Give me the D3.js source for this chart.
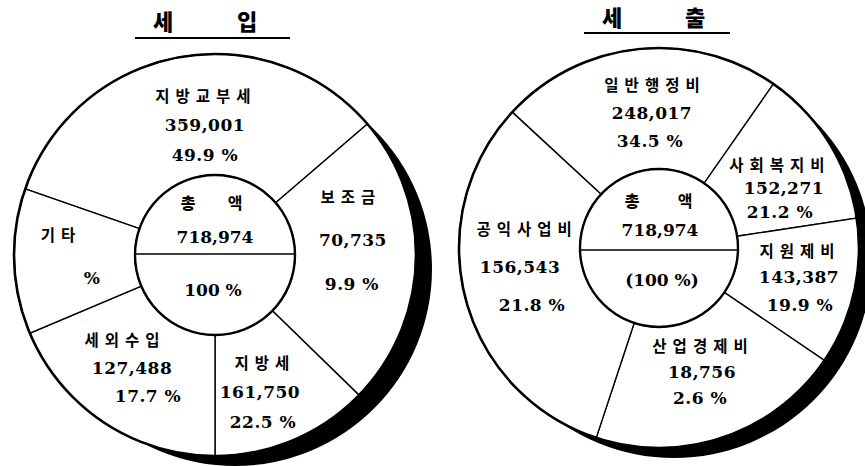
<!DOCTYPE html>
<html>
<head>
<meta charset="utf-8">
<script src="https://cdn.jsdelivr.net/npm/d3@7"></script>
<style>
  body { margin: 0; background: #fff; }
</style>
</head>
<body>
<svg></svg>
<script>
// 세입 (revenue)
const revenueNames = ['지방교부세', '보조금', '지방세', '세외수입', '기타'];
const revenueAmounts = [359001, 70735, 161750, 127488, null];
const revenuePercents = [49.9, 9.9, 22.5, 17.7, null];
// slice sizes as they are drawn in the picture (degrees), the drawing is not to scale
const revenueDrawn = [120.1, 84.9, 45.8, 67.1, 42.1];

// 세출 (expenditure)
const expenseNames = ['일반행정비', '사회복지비', '지원제비', '산업경제비', '공익사업비'];
const expenseAmounts = [248017, 152271, 143387, 18756, 156543];
const expensePercents = [34.5, 21.2, 19.9, 2.6, 21.8];
const expenseDrawn = [82.1, 46.5, 42.8, 74.1, 114.5];

const totalAmount = 718974;

const width = 865;
const height = 466;
const krFont = "'Noto Sans CJK KR', sans-serif";
const numFont = "'DejaVu Serif', serif";
const fmt = d3.format(',');

const svg = d3.select('svg')
  .attr('width', width)
  .attr('height', height);

// label tweaks: [dx, dy, line gap, first line dx, last line dx]
const revenueLabelLayout = [
  [16, 7.5, 30, -2, 0],
  [-2, -19, 44, -5, -1],
  [-9.5, 8, 30, 2, 3],
  [-5.6, -3.7, 28.5, -10, 16],
  [0, -4, 22, -17, 17]
];
const expenseLabelLayout = [
  [8, 4, 28.5, 0, -2],
  [6, 14, 24, -7, -4],
  [3.5, -2, 27.5, -2, 1],
  [-2, -8.6, 26.5, -2, -2],
  [-3.4, -16, 38.5, 4, 12]
];

const drawTitle = (chars, xs, y, line) => {
  svg.selectAll(null)
    .data(chars)
    .join('text')
    .attr('x', (d, i) => xs[i])
    .attr('y', y)
    .attr('text-anchor', 'middle')
    .attr('dominant-baseline', 'central')
    .style('font-family', krFont)
    .style('font-weight', 900)
    .style('font-size', '22px')
    .text(d => d);

  svg.append('line')
    .attr('x1', line[0])
    .attr('x2', line[1])
    .attr('y1', line[2])
    .attr('y2', line[2])
    .attr('stroke', 'black')
    .attr('stroke-width', 1.8);
};

const drawDonut = (opt) => {
  const g = svg.append('g')
    .attr('transform', `translate(${opt.cx}, ${opt.cy})`);

  // black crescent shadow
  g.append('circle')
    .attr('cx', opt.shadow[0])
    .attr('cy', opt.shadow[1])
    .attr('r', opt.outer + opt.shadow[2])
    .style('fill', 'black');

  g.append('circle')
    .attr('r', opt.outer)
    .style('fill', 'white');

  const start = opt.start * Math.PI / 180;
  const pie = d3.pie()
    .sort(null)
    .value(d => d)
    .startAngle(start)
    .endAngle(start + 2 * Math.PI);
  const slices = pie(opt.drawn);

  const arc = d3.arc()
    .innerRadius(opt.inner)
    .outerRadius(opt.outer);

  g.selectAll('path.slice')
    .data(slices)
    .join('path')
    .attr('class', 'slice')
    .attr('d', arc)
    .style('fill', 'white')
    .style('stroke', 'black')
    .style('stroke-width', 1.4);

  g.append('circle')
    .attr('r', opt.outer)
    .style('fill', 'none')
    .style('stroke', 'black')
    .style('stroke-width', 2.6);

  g.append('circle')
    .attr('r', opt.inner)
    .style('fill', 'white')
    .style('stroke', 'black')
    .style('stroke-width', 2.4);

  g.append('line')
    .attr('x1', -opt.inner)
    .attr('x2', opt.inner)
    .attr('y1', opt.midLine)
    .attr('y2', opt.midLine)
    .attr('stroke', 'black')
    .attr('stroke-width', 1.6);

  // centre: 총 액 / total / 100%
  const c = opt.centre;
  g.append('text')
    .attr('x', c[0][0]).attr('y', c[0][1])
    .attr('text-anchor', 'middle')
    .attr('dominant-baseline', 'central')
    .style('font-family', krFont)
    .style('font-weight', 900)
    .style('font-size', '16px')
    .text('총');
  g.append('text')
    .attr('x', c[1][0]).attr('y', c[1][1])
    .attr('text-anchor', 'middle')
    .attr('dominant-baseline', 'central')
    .style('font-family', krFont)
    .style('font-weight', 700)
    .style('font-size', '16px')
    .text('액');
  g.append('text')
    .attr('x', c[2][0]).attr('y', c[2][1])
    .attr('text-anchor', 'middle')
    .attr('dominant-baseline', 'central')
    .style('font-family', numFont)
    .style('font-weight', 'bold')
    .style('font-size', '17px')
    .text(fmt(totalAmount));
  g.append('text')
    .attr('x', c[3][0]).attr('y', c[3][1])
    .attr('text-anchor', 'middle')
    .attr('dominant-baseline', 'central')
    .style('font-family', numFont)
    .style('font-weight', 'bold')
    .style('font-size', '17px')
    .text(opt.hundred);

  // slice labels
  const labelArc = d3.arc()
    .innerRadius(opt.labelR)
    .outerRadius(opt.labelR);

  slices.forEach((s, i) => {
    const [x, y] = labelArc.centroid(s);
    const [dx, dy, gap, dx1, dx3] = opt.layout[i];
    const bx = x + dx;
    const by = y + dy;
    const lines = [
      opt.names[i],
      opt.amounts[i] == null ? '' : fmt(opt.amounts[i]),
      opt.percents[i] == null ? '%' : opt.percents[i].toFixed(1) + ' %'
    ];
    const shifts = [dx1, 0, dx3];

    lines.forEach((txt, k) => {
      const isName = k === 0;
      g.append('text')
        .attr('x', bx + shifts[k] + (isName ? 3 : 0))
        .attr('y', by + (k - 1) * gap)
        .attr('text-anchor', 'middle')
        .attr('dominant-baseline', 'central')
        .style('font-family', isName ? krFont : numFont)
        .style('font-weight', isName ? 700 : 'bold')
        .style('font-size', isName ? '15.5px' : '17px')
        .style('letter-spacing', isName ? '6px' : '0.5px')
        .text(txt);
    });
  });
};

drawTitle(['세', '입'], [163, 247], 20, [135, 290, 38]);
drawTitle(['세', '출'], [612, 695], 16, [584, 730, 33]);

drawDonut({
  cx: 215, cy: 255,
  outer: 201, inner: 80,
  start: -70.8,
  shadow: [20, 14, -4],
  midLine: -1,
  labelR: 140,
  drawn: revenueDrawn,
  names: revenueNames,
  amounts: revenueAmounts,
  percents: revenuePercents,
  layout: revenueLabelLayout,
  centre: [[-27, -53], [20, -53], [0, -18], [-2, 35]],
  hundred: '100 %'
});

drawDonut({
  cx: 659, cy: 248,
  outer: 200, inner: 79,
  start: -47.2,
  shadow: [15, 12, -2],
  midLine: 2,
  labelR: 140,
  drawn: expenseDrawn,
  names: expenseNames,
  amounts: expenseAmounts,
  percents: expensePercents,
  layout: expenseLabelLayout,
  centre: [[-27, -48], [26, -48], [1, -18], [3, 32]],
  hundred: '(100 %)'
});
</script>
</body>
</html>
